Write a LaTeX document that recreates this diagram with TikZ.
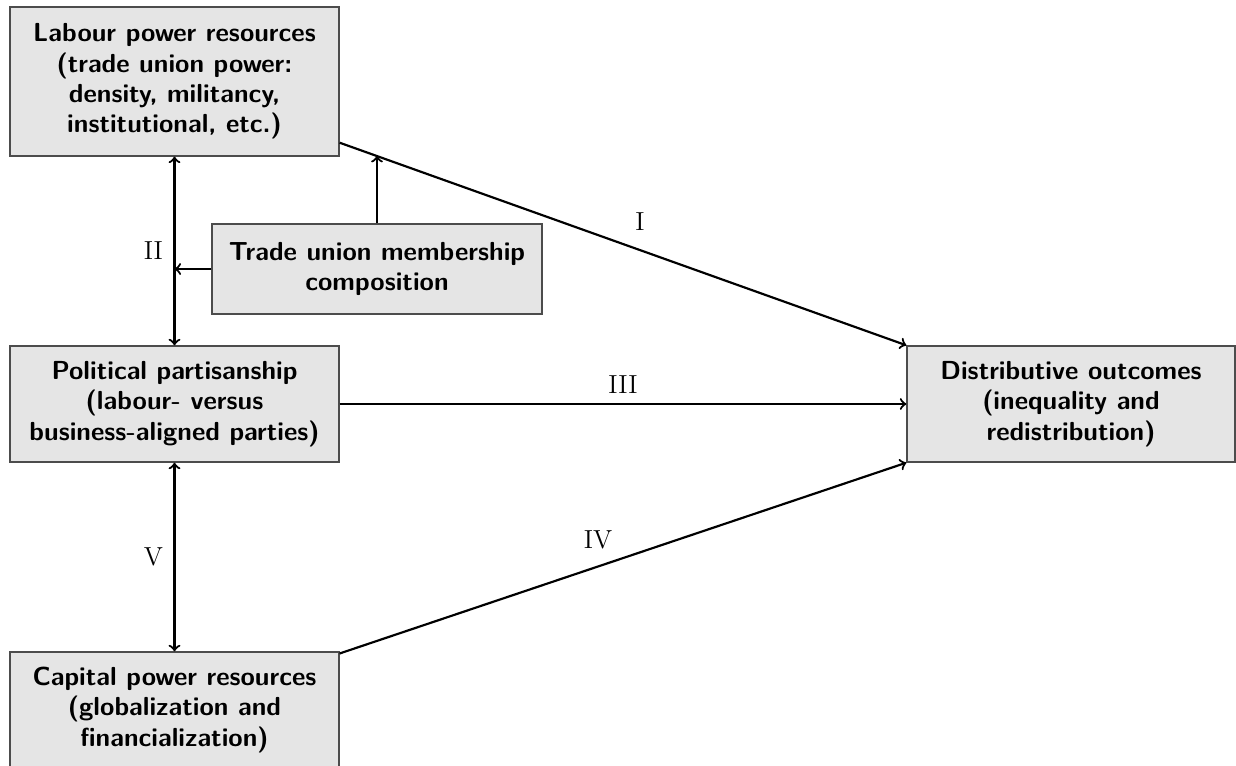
\documentclass[tikz,border=0pt]{standalone}
\usetikzlibrary{calc}
\begin{document}
\begin{tikzpicture}[x=0.46pt,y=-0.46pt,
  box/.style={draw=black!70, line width=0.6pt, fill=black!10, align=center,
    font=\large\sffamily\bfseries, inner sep=2pt, minimum width=151.3pt},
  conn/.style={line width=1pt, ->},
  dconn/.style={line width=1pt, <->},
  lab/.style={font=\large}]
\useasboundingbox (0,0) rectangle (1236,765);
\node[box, minimum height=68.5pt] (lab) at (174.5,81.5)
  {Labour power resources\\(trade union power:\\density, militancy,\\institutional, etc.)};
\node[box, minimum height=41.4pt, minimum width=151.8pt] (tu) at (377,269)
  {Trade union membership\\composition};
\node[box, minimum height=53.4pt] (pol) at (174.5,404)
  {Political partisanship\\(labour- versus\\business-aligned parties)};
\node[box, minimum height=53.4pt] (cap) at (174.5,710)
  {Capital power resources\\(globalization and\\financialization)};
\node[box, minimum height=53.4pt, minimum width=150.9pt] (dis) at (1071,404)
  {Distributive outcomes\\(inequality and\\redistribution)};

\draw[conn] ([yshift=6.4pt]lab.south east) -- coordinate[pos=0.0653] (m)
  node[lab, pos=0.53, above=5pt] {I} (dis.north west);
\draw[conn] (tu.north) -- (tu.north |- m);
\draw[dconn] (lab.south) -- node[lab, left=1.5pt] {II} (pol.north);
\draw[conn] (tu.west) -- (tu.west -| lab.south);
\draw[conn] (pol.east) -- node[lab, above=1pt] {III} (dis.west);
\draw[dconn] (pol.south) -- node[lab, left=1.5pt] {V} (cap.north);
\draw[conn] ([yshift=-1pt]cap.north east) -- node[lab, pos=0.456, above=4pt] {IV} (dis.south west);
\end{tikzpicture}
\end{document}
